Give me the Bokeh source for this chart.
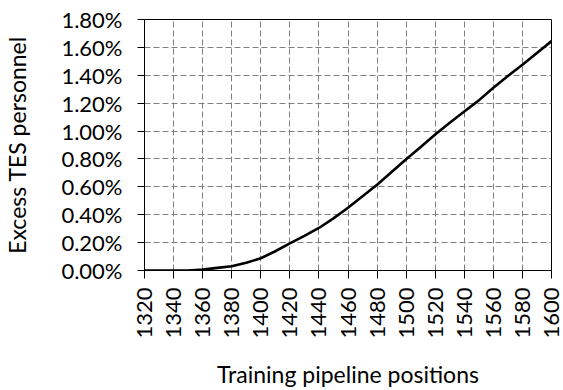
from bokeh.plotting import figure
from bokeh.models import FixedTicker, PrintfTickFormatter, Range1d
from bokeh.embed import file_html
from bokeh.resources import INLINE
import math

# Data (percent units)
positions = [1320, 1330, 1340, 1350, 1360, 1370, 1380, 1390, 1400, 1410, 1420, 1430, 1440, 1450,
             1460, 1470, 1480, 1490, 1500, 1510, 1520, 1530, 1540, 1550, 1560, 1570, 1580, 1590, 1600]
excess_pct = [0.0, 0.0, 0.0, 0.0, 0.006, 0.019, 0.031, 0.055, 0.088, 0.138, 0.194, 0.248, 0.305, 0.374,
              0.45, 0.533, 0.615, 0.706, 0.798, 0.885, 0.975, 1.06, 1.14, 1.22, 1.31, 1.395, 1.475, 1.56, 1.645]
x_ticks = list(range(1320, 1601, 20))
y_ticks = [0.0, 0.2, 0.4, 0.6, 0.8, 1.0, 1.2, 1.4, 1.6, 1.8]

FONT = "Lato"

p = figure(width=563, height=390, output_backend="svg", toolbar_location=None,
           x_range=Range1d(1320, 1600), y_range=Range1d(0, 1.8))
p.min_border_left = 144
p.min_border_right = 12
p.min_border_top = 19
p.min_border_bottom = 118
p.background_fill_color = "white"
p.border_fill_color = "white"
p.outline_line_color = "black"
p.outline_line_width = 1

p.line(positions, excess_pct, line_color="black", line_width=2.6)

# Axes
p.xaxis.ticker = FixedTicker(ticks=x_ticks)
p.yaxis.ticker = FixedTicker(ticks=y_ticks)
p.yaxis.formatter = PrintfTickFormatter(format="%.2f%%")
p.xaxis.major_label_orientation = math.pi / 2
for ax in (p.xaxis, p.yaxis):
    ax.axis_line_color = "black"
    ax.major_tick_line_color = "black"
    ax.major_tick_in = 0
    ax.major_tick_out = 7
    ax.minor_tick_line_color = None
    ax.major_label_text_font = FONT
    ax.major_label_text_font_size = "22px"
    ax.major_label_text_color = "black"
    ax.axis_label_text_font = FONT
    ax.axis_label_text_font_size = "23px"
    ax.axis_label_text_font_style = "normal"
    ax.axis_label_text_color = "black"

p.xaxis.major_tick_out = 8
p.xaxis.major_label_standoff = 9
p.yaxis.major_label_standoff = 15
p.xaxis.axis_label = "Training pipeline positions"
p.yaxis.axis_label = "Excess TES personnel"
p.xaxis.axis_label_standoff = 18
p.yaxis.axis_label_standoff = 27

# Grid
for g in (p.xgrid, p.ygrid):
    g.grid_line_color = "#808080"
    g.grid_line_dash = "6 3"
    g.grid_line_width = 1

open("out.html", "w").write(file_html(p, INLINE))
